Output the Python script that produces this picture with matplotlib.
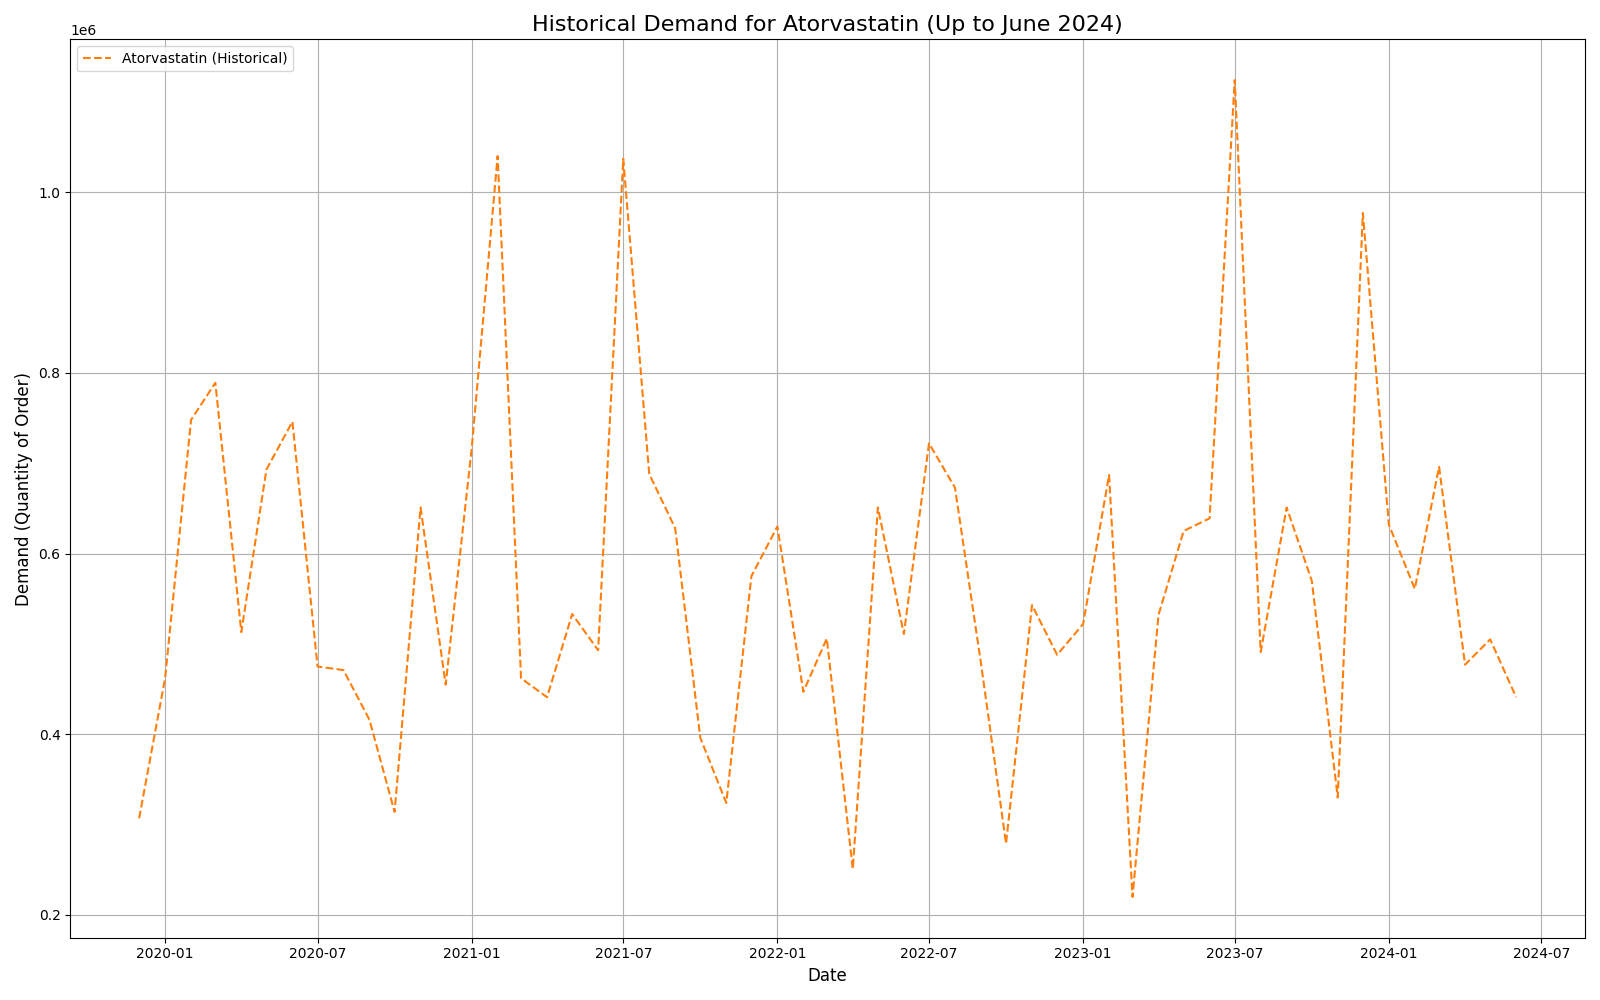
import matplotlib
matplotlib.use("Agg")
import matplotlib.pyplot as plt
import pandas as pd

# monthly demand, Dec 2019 .. Jun 2024
dates = pd.date_range("2019-12-01", "2024-06-01", freq="MS")
demand = [
    307000,
    462000, 748000, 789000, 513000, 693000, 746000,
    475000, 471000, 416000, 314000, 651000, 455000,
    716000, 1040000, 462000, 441000, 533000, 493000,
    1037000, 688000, 628000, 396000, 324000, 575000,
    630000, 447000, 506000, 251000, 651000, 511000,
    722000, 673000, 479000, 279000, 543000, 488000,
    522000, 687000, 220000, 532000, 625000, 639000,
    1124000, 491000, 651000, 570000, 330000, 977000,
    632000, 561000, 696000, 477000, 505000, 441000,
]

fig, ax = plt.subplots(figsize=(16, 10), dpi=100)
ax.plot(dates, demand, linestyle='--', color='#ff7f0e', label='Atorvastatin (Historical)')
ax.set_title('Historical Demand for Atorvastatin (Up to June 2024)', fontsize=16)
ax.set_xlabel('Date', fontsize=12)
ax.set_ylabel('Demand (Quantity of Order)', fontsize=12)
ax.legend(loc='upper left')
ax.grid(True)
plt.tight_layout()
plt.savefig('out.png')
